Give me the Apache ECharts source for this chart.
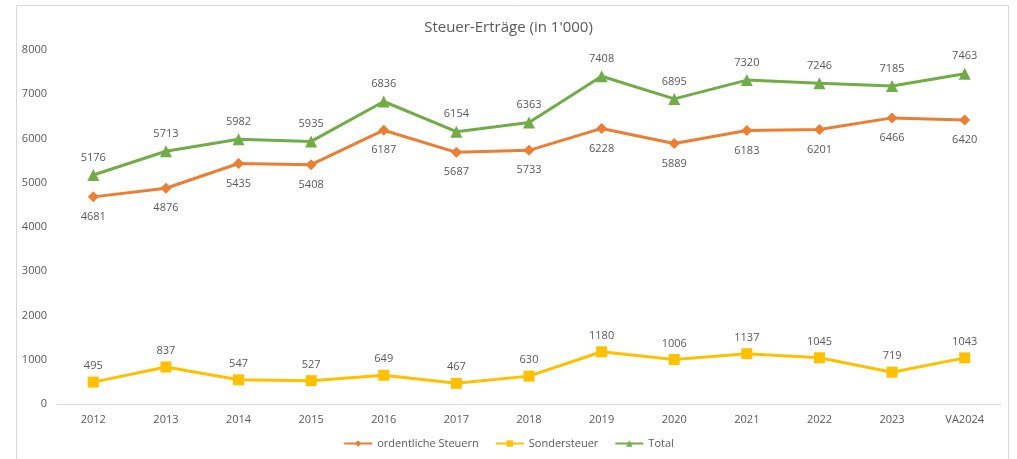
<!DOCTYPE html>
<html>
<head>
<meta charset="utf-8">
<script src="https://cdn.jsdelivr.net/npm/echarts@6/dist/echarts.min.js"></script>
<style>
html, body { margin: 0; padding: 0; background: #fff; }
#chart { width: 1017px; height: 459px; }
</style>
</head>
<body>
<div id="chart"></div>
<script>
var years = ['2012', '2013', '2014', '2015', '2016', '2017', '2018', '2019', '2020', '2021', '2022', '2023', 'VA2024'];
var ordentliche = [4681, 4876, 5435, 5408, 6187, 5687, 5733, 6228, 5889, 6183, 6201, 6466, 6420];
var sonder = [495, 837, 547, 527, 649, 467, 630, 1180, 1006, 1137, 1045, 719, 1043];
var total = [5176, 5713, 5982, 5935, 6836, 6154, 6363, 7408, 6895, 7320, 7246, 7185, 7463];

var font = '"Open Sans", "Noto Sans", sans-serif';
var grey = '#595959';

function lineSeries(name, data, color, symbol, size, pos, dist) {
    return {
        name: name,
        type: 'line',
        data: data,
        symbol: symbol,
        symbolSize: size,
        lineStyle: { color: color, width: 3 },
        itemStyle: { color: color },
        label: {
            show: true,
            position: pos,
            distance: dist,
            color: grey,
            fontSize: 11,
            fontFamily: font
        }
    };
}

var myChart = echarts.init(document.getElementById('chart'));
var option = {
    animation: false,
    graphic: [{
        type: 'rect',
        shape: { x: 16.5, y: 5.5, width: 992, height: 470 },
        style: { fill: 'none', stroke: '#d9d9d9', lineWidth: 1 },
        silent: true
    }],
    title: {
        text: "Steuer-Erträge (in 1'000)",
        left: 'center',
        top: 15,
        textStyle: { color: grey, fontSize: 15, fontWeight: 'normal', fontFamily: font }
    },
    legend: {
        bottom: 5,
        left: 'center',
        itemWidth: 28,
        itemHeight: 8,
        itemGap: 16,
        textStyle: { color: grey, fontSize: 11, fontFamily: font },
        data: ['ordentliche Steuern', 'Sondersteuer', 'Total']
    },
    grid: { left: 57, right: 16, top: 50, bottom: 55 },
    xAxis: {
        type: 'category',
        data: years,
        boundaryGap: true,
        axisLine: { lineStyle: { color: '#d9d9d9', width: 1 } },
        axisTick: { show: false },
        axisLabel: { color: grey, fontSize: 11, fontFamily: font, margin: 10 }
    },
    yAxis: {
        type: 'value',
        min: 0,
        max: 8000,
        interval: 1000,
        axisLine: { show: false },
        axisTick: { show: false },
        splitLine: { show: false },
        axisLabel: {
            color: grey, fontSize: 11, fontFamily: font, margin: 10,
            formatter: function (v) { return String(v); }
        }
    },
    series: [
        lineSeries('ordentliche Steuern', ordentliche, '#ED7D31', 'diamond', 11, 'bottom', 9),
        lineSeries('Sondersteuer', sonder, '#FFC000', 'rect', 11, 'top', 5),
        lineSeries('Total', total, '#70AD47', 'triangle', 12, 'top', 6)
    ]
};
option && myChart.setOption(option);
</script>
</body>
</html>
